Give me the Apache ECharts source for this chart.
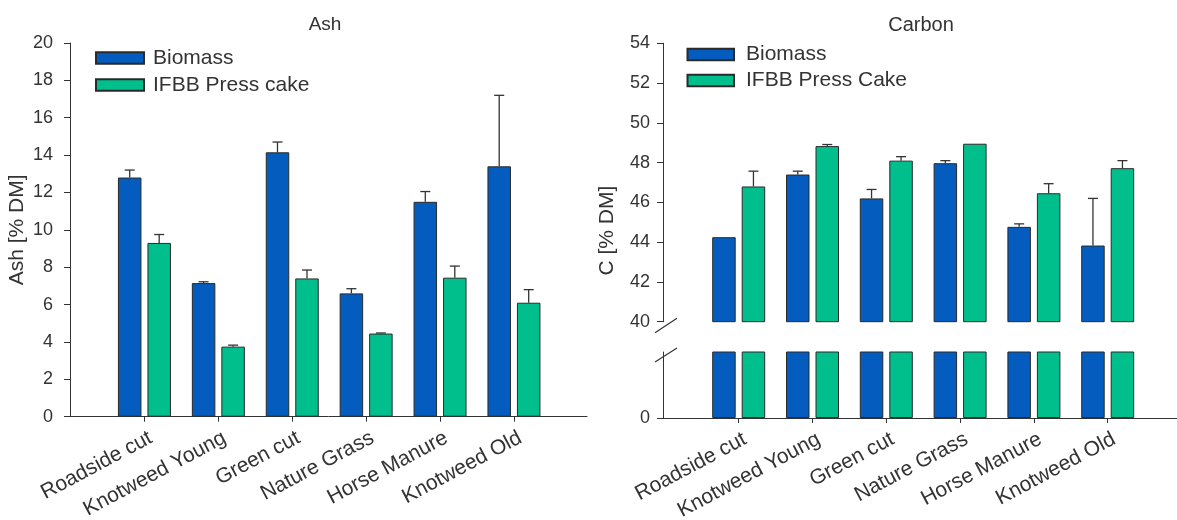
<!DOCTYPE html>
<html>
<head>
<meta charset="utf-8">
<script src="https://cdn.jsdelivr.net/npm/echarts@6/dist/echarts.min.js"></script>
<style>
  html, body { margin: 0; padding: 0; background: #fff; }
  #chart { width: 1177px; height: 520px; }
</style>
</head>
<body>
<div id="chart"></div>
<script>
const categories = ['Roadside cut', 'Knotweed Young', 'Green cut', 'Nature Grass', 'Horse Manure', 'Knotweed Old']

// Ash [% DM]
const ashBiomass = [12.8, 7.15, 14.15, 6.6, 11.5, 13.4]
const ashBiomassErr = [0.4, 0.07, 0.55, 0.25, 0.55, 3.8]
const ashPress = [9.3, 3.75, 7.4, 4.45, 7.44, 6.1]
const ashPressErr = [0.45, 0.08, 0.45, 0.03, 0.62, 0.7]
const ashTicks = { min: 0, max: 20, interval: 2 }

// Carbon [% DM]
const cBiomass = [44.25, 47.4, 46.2, 47.97, 44.77, 43.83]
const cBiomassErr = [0, 0.17, 0.45, 0.13, 0.15, 2.37]
const cPress = [46.8, 48.83, 48.1, 48.95, 46.46, 47.72]
const cPressErr = [0.77, 0.08, 0.2, 0, 0.48, 0.38]
const cTicks = { min: 40, max: 54, interval: 2 }

const BLUE = '#035CBE'
const GREEN = '#00BF8C'
const INK = '#333'
const FONT = 'Liberation Sans, Arial, sans-serif'
const BAR_W = 23.5
const BAR_GAP = 6
const HALF = (BAR_W + BAR_GAP) / 2

const chart = echarts.init(document.getElementById('chart'))

const txt = { color: INK, fontFamily: FONT, fontSize: 18 }

function bar (name, data, color, xi, yi) {
  return {
    type: 'bar',
    name: name,
    xAxisIndex: xi,
    yAxisIndex: yi,
    data: data,
    barWidth: BAR_W,
    barGap: (BAR_GAP / BAR_W * 100) + '%',
    itemStyle: { color: color, borderColor: '#2a2a2a', borderWidth: 1 },
    emphasis: { disabled: true }
  }
}

function errorBars (values, errs, xi, yi, offset) {
  return {
    type: 'custom',
    xAxisIndex: xi,
    yAxisIndex: yi,
    z: 5,
    silent: true,
    encode: { x: 0, y: 1 },
    data: values.map((v, i) => [i, v, errs[i]]),
    renderItem: (params, api) => {
      const e = api.value(2)
      if (!(e > 0)) return null
      const base = api.coord([api.value(0), api.value(1)])
      const top = api.coord([api.value(0), api.value(1) + e])
      const x = base[0] + offset
      const st = { stroke: INK, lineWidth: 1.3 }
      return {
        type: 'group',
        children: [
          { type: 'line', shape: { x1: x, y1: base[1], x2: x, y2: top[1] }, style: st },
          { type: 'line', shape: { x1: x - 5, y1: top[1], x2: x + 5, y2: top[1] }, style: st }
        ]
      }
    }
  }
}

function catAxis (grid, showLabels) {
  return {
    type: 'category',
    gridIndex: grid,
    data: categories,
    axisLine: { show: false },
    axisTick: { show: showLabels, alignWithLabel: true, length: 5, lineStyle: { color: INK } },
    axisLabel: {
      show: showLabels,
      rotate: 28,
      margin: 8,
      verticalAlign: 'top',
      lineHeight: 27,
      ...txt,
      fontSize: 21
    }
  }
}

function lineAxis (grid) {
  return {
    type: 'value',
    gridIndex: grid,
    min: 0,
    max: 1,
    axisLine: { show: true, lineStyle: { color: INK, width: 1 } },
    axisTick: { show: false },
    axisLabel: { show: false },
    splitLine: { show: false }
  }
}

function legend (names, left, top, swatchW, textPad, gap) {
  return {
    data: names,
    orient: 'vertical',
    icon: 'rect',
    left: left,
    top: top,
    padding: 0,
    itemWidth: swatchW,
    itemHeight: 11.5,
    itemGap: gap,
    textStyle: { ...txt, fontSize: 21, padding: [0, 0, 0, textPad] }
  }
}

function grid (left, width, top, height) {
  return { left: left, width: width, top: top, height: height, outerBoundsMode: 'none', containLabel: false }
}

const option = {
  animation: false,
  backgroundColor: '#fff',
  title: [
    { text: 'Ash', left: 320, top: 10, textAlign: 'center', textStyle: { ...txt, fontSize: 19, fontWeight: 'normal' } },
    { text: 'Carbon', left: 916, top: 10, textAlign: 'center', textStyle: { ...txt, fontSize: 20, fontWeight: 'normal' } }
  ],
  legend: [
    legend(['Biomass', 'IFBB Press cake'], 95, 47.5, 48, 4, 6),
    legend(['Biomass', 'IFBB Press Cake'], 686.5, 44, 46.5, 7, 5)
  ],
  grid: [
    grid(107.5, 443.4, 43, 373.7),    // ash bars
    grid(70, 517, 43, 373.7),         // ash frame
    grid(701.8, 442.8, 43.3, 278.4),  // carbon upper
    grid(701.8, 442.8, 352, 66),      // carbon lower
    grid(663, 514, 43.3, 374.7)       // carbon frame
  ],
  xAxis: [
    catAxis(0, true),
    lineAxis(1),
    catAxis(2, false),
    catAxis(3, true),
    lineAxis(4)
  ],
  yAxis: [
    {
      type: 'value',
      gridIndex: 0,
      ...ashTicks,
      offset: 37.5,
      name: 'Ash [% DM]',
      nameLocation: 'middle',
      nameGap: 42,
      nameTextStyle: { ...txt, fontSize: 21 },
      axisLine: { show: true, lineStyle: { color: INK } },
      axisTick: { show: true, length: 6, lineStyle: { color: INK } },
      axisLabel: { margin: 17, ...txt },
      splitLine: { show: false }
    },
    { type: 'value', gridIndex: 1, show: false, min: 0, max: 1 },
    {
      type: 'value',
      gridIndex: 2,
      ...cTicks,
      offset: 38.8,
      axisLine: { show: true, lineStyle: { color: INK } },
      axisTick: { show: true, length: 6, lineStyle: { color: INK } },
      axisLabel: { margin: 13, ...txt },
      splitLine: { show: false }
    },
    {
      type: 'value',
      gridIndex: 3,
      min: 0,
      max: 10,
      offset: 38.8,
      axisLine: { show: true, lineStyle: { color: INK } },
      axisTick: { show: true, length: 6, customValues: [0], lineStyle: { color: INK } },
      axisLabel: { margin: 13, customValues: [0], ...txt },
      splitLine: { show: false }
    },
    {
      type: 'value',
      gridIndex: 4,
      min: 0,
      max: 1,
      name: 'C [% DM]',
      nameLocation: 'middle',
      nameGap: 45,
      nameTextStyle: { ...txt, fontSize: 21 },
      axisLine: { show: false },
      axisTick: { show: false },
      axisLabel: { show: false },
      splitLine: { show: false }
    }
  ],
  series: [
    bar('Biomass', ashBiomass, BLUE, 0, 0),
    bar('IFBB Press cake', ashPress, GREEN, 0, 0),
    bar('Biomass', cBiomass, BLUE, 2, 2),
    bar('IFBB Press Cake', cPress, GREEN, 2, 2),
    bar('Biomass', cBiomass, BLUE, 3, 3),
    bar('IFBB Press Cake', cPress, GREEN, 3, 3),
    errorBars(ashBiomass, ashBiomassErr, 0, 0, -HALF),
    errorBars(ashPress, ashPressErr, 0, 0, HALF),
    errorBars(cBiomass, cBiomassErr, 2, 2, -HALF),
    errorBars(cPress, cPressErr, 2, 2, HALF)
  ]
}

chart.setOption(option)

// axis break marks on the carbon y axis
const axisX = chart.convertToPixel({ xAxisIndex: 4 }, 0)
const yBreakHigh = chart.convertToPixel({ yAxisIndex: 2 }, cTicks.min)
const yBreakLow = chart.convertToPixel({ yAxisIndex: 3 }, 10)
const markStyle = { stroke: INK, lineWidth: 1.2 }
chart.setOption({
  graphic: [
    { type: 'line', shape: { x1: axisX - 8, y1: yBreakHigh + 11, x2: axisX + 14, y2: yBreakHigh - 3.5 }, style: markStyle },
    { type: 'line', shape: { x1: axisX - 8, y1: yBreakLow + 10, x2: axisX + 14, y2: yBreakLow - 4 }, style: markStyle }
  ]
})
</script>
</body>
</html>
